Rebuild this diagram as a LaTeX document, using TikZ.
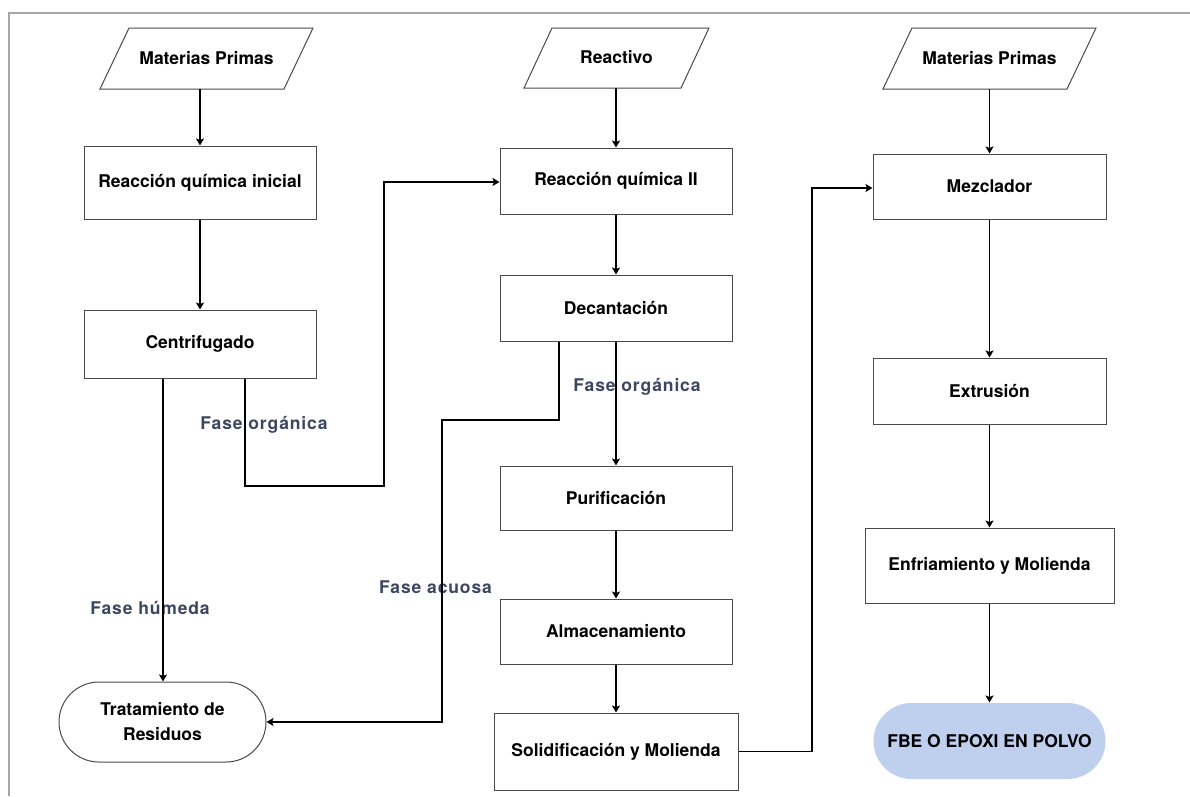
\documentclass[tikz,border=0pt]{standalone}
\usepackage{fontspec}
\setmainfont{TeX Gyre Heros}
\usetikzlibrary{arrows.meta,calc}
\definecolor{lbl}{HTML}{3C4660}
\definecolor{fbe}{HTML}{BFCFEE}
\definecolor{bord}{HTML}{4A4A4A}
\definecolor{frame}{HTML}{A6A6A6}
\tikzset{
  procbox/.style={draw=bord,line width=1pt,fill=white,minimum width=232pt,inner sep=0pt,font=\bfseries\fontsize{17.5}{21}\selectfont,align=center},
  iobox/.style={inner sep=0pt,font=\bfseries\fontsize{17.5}{21}\selectfont,align=center},
  pline/.style={draw=bord,line width=1pt,fill=white},
  conn/.style={draw=black,line width=1.8pt,-{Stealth[length=7pt,width=8pt,inset=1.5pt]}},
  phase/.style={text=lbl,font=\bfseries\fontsize{17.5}{21}\selectfont\addfontfeatures{LetterSpace=5},inner sep=0pt}
}
\begin{document}
\begin{tikzpicture}[x=1pt,y=-1pt]
\useasboundingbox (0,0) rectangle (1190,796);
\draw[frame,line width=1.5pt] (9,796) -- (9,13) -- (1190,13);

% parallelograms
\draw[pline] (129,28) -- (313,28) -- (284,89) -- (100,89) -- cycle;
\node[iobox] (mp1) at (206.5,58.5) {Materias Primas};
\coordinate (mp1b) at (200,89);
\draw[pline] (552,28) -- (709,28) -- (681,88) -- (524,88) -- cycle;
\node[iobox] (rea) at (616.5,57) {Reactivo};
\coordinate (reab) at (616,88);
\draw[pline] (912,28) -- (1096,28) -- (1067,89) -- (883,89) -- cycle;
\node[iobox] (mp3) at (989.5,58.5) {Materias Primas};
\coordinate (mp3b) at (989.5,89);

% process boxes
\node[procbox,minimum height=73pt] (rq1) at (200,182.5) {Reacción química inicial};
\node[procbox,minimum height=68pt] (cen) at (200,344) {Centrifugado};
\node[procbox,minimum height=66pt] (rq2) at (616,181) {Reacción química II};
\node[procbox,minimum height=66pt] (dec) at (616,308) {Decantación};
\node[procbox,minimum height=64pt] (pur) at (616,498) {Purificación};
\node[procbox,minimum height=65pt] (alm) at (616,631.5) {Almacenamiento};
\node[procbox,minimum width=244pt,minimum height=77pt] (sol) at (616,751.5) {Solidificación y Molienda};
\node[procbox,minimum width=233pt,minimum height=65pt] (mez) at (989.5,186.5) {Mezclador};
\node[procbox,minimum width=233pt,minimum height=66pt] (ext) at (989.5,391) {Extrusión};
\node[procbox,minimum width=249pt,minimum height=75pt] (enf) at (989.5,565.5) {Enfriamiento y Molienda};
\node[procbox,draw=none,fill=fbe,rounded corners=38pt,minimum height=76pt] (fbe) at (989.5,741) {FBE O EPOXI EN POLVO};
\node[procbox,rounded corners=40pt,minimum width=207pt,minimum height=80pt] (tra) at (162.5,722) {Tratamiento de\\[4pt]Residuos};

% phase labels
\node[phase] (lfo1) at (264,425) {Fase orgánica};
\node[phase] (lfo2) at (637,387) {Fase orgánica};
\node[phase] (lfh) at (150,608) {Fase húmeda};
\node[phase] (lfa) at (435.5,587) {Fase acuosa};

% connectors column 1
\draw[conn] (mp1b) -- (rq1.north);
\draw[conn] (rq1.south) -- (cen.north);
\draw[conn] (cen.south -| 163,0) -- (tra.north -| 163,0);
\draw[conn] (cen.south -| 245,0) -- (245,486) -- (384,486) -- (384,182) -- (rq2.west |- 0,182);

% connectors column 2
\draw[conn] (reab) -- (rq2.north);
\draw[conn] (rq2.south) -- (dec.north);
\draw[conn] (dec.south) -- (pur.north);
\draw[conn] (pur.south) -- (alm.north);
\draw[conn] (alm.south) -- (sol.north);
\draw[conn] (dec.south -| 559,0) -- (559,420) -- (442,420) -- (442,722) -- (tra.east);
\draw[conn] (sol.east) -- (812,751.5) -- (812,188) -- (mez.west |- 0,188);

% connectors column 3
\draw[conn] (mp3b) -- (mez.north);
\draw[conn] (mez.south) -- (ext.north);
\draw[conn] (ext.south) -- (enf.north);
\draw[conn] (enf.south) -- (fbe.north);
\end{tikzpicture}
\end{document}
